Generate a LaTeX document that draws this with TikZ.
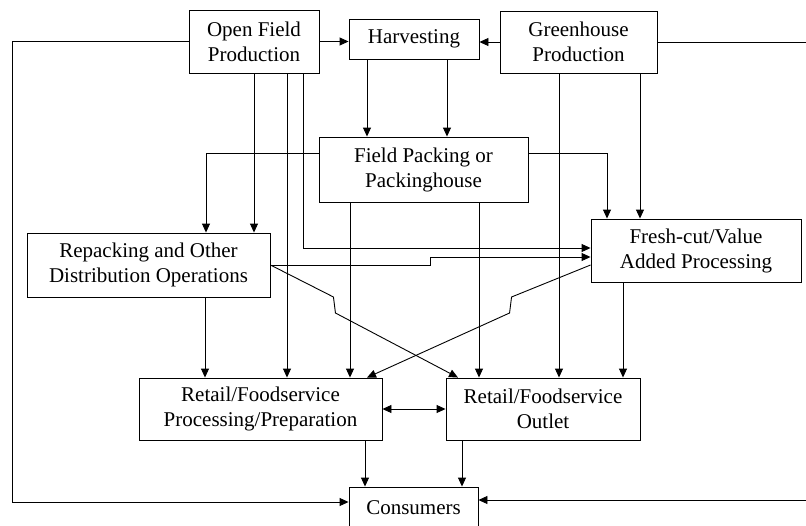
\documentclass[tikz,border=0pt]{standalone}
\usepackage{fontspec}
\setmainfont{Liberation Serif}
\usepackage{tikz}
\usetikzlibrary{positioning}
\usetikzlibrary{arrows.meta}

\tikzset{
	box/.style={draw, align=center, inner sep=0pt, line width=0.9pt, font=\fontsize{21}{25}\selectfont},
	flow/.style={line width=0.9pt, -{Triangle[length=9pt,width=8pt]}},
	bothflow/.style={line width=0.9pt, {Triangle[length=9pt,width=8pt]}-{Triangle[length=9pt,width=8pt]}}
}

\begin{document}
\begin{tikzpicture}[x=1pt, y=-1pt]
	\clip (0,0) rectangle (806,525);
	
	% Production and harvesting
	\node [box, minimum width=130, minimum height=63] at (254,41.5) (open) {Open Field\\Production};
	\node [box, minimum width=130, minimum height=40] at (414,39) (harv) {Harvesting};
	\node [box, minimum width=157, minimum height=62] at (578.5,42) (green) {Greenhouse\\Production};
	
	% Packing
	\node [box, minimum width=209, minimum height=65] at (423.5,169.5) (pack) {Field Packing or\\Packinghouse};
	
	% Repacking and fresh-cut
	\node [box, minimum width=243, minimum height=64] at (148.5,265) (repack) {Repacking and Other\\Distribution Operations};
	\node [box, minimum width=210, minimum height=63] at (696,250.5) (fresh) {Fresh-cut/Value\\Added Processing};
	
	% Retail and consumers
	\node [box, minimum width=243, minimum height=62] at (260.5,409) (proc) {Retail/Foodservice\\Processing/Preparation};
	\node [box, minimum width=194, minimum height=62] at (543,409) (outlet) {Retail/Foodservice\\Outlet};
	\node [box, minimum width=129, minimum height=42] at (413.5,508) (cons) {Consumers};
	
	% Connections
	\draw [flow] (open.east) -- (open.east -| harv.west);
	\draw [flow] (green.west) -- (green.west -| harv.east);
	\draw [flow] (open.west) -- (12,41.5) |- ([yshift=6]cons.west);
	\draw [flow] (green.east) -- (812,42) |- ([yshift=8]cons.east);
	
	\draw [flow] ([xshift=-47]harv.south) -- ([xshift=-47]harv.south |- pack.north);
	\draw [flow] ([xshift=33]harv.south) -- ([xshift=33]harv.south |- pack.north);
	
	\draw [flow] (open.south) -- (open.south |- repack.north);
	\draw [flow] ([xshift=33]open.south) -- ([xshift=33]open.south |- proc.north);
	\draw [flow] ([xshift=49]open.south) |- ([yshift=2.5]fresh.west);
	
	\draw [flow] ([yshift=16.5]pack.west) -| ([xshift=57.5]repack.north);
	\draw [flow] ([yshift=16]pack.east) -| ([xshift=-89]fresh.north);
	\draw [flow] ([xshift=-73.5]pack.south) -- ([xshift=-73.5]pack.south |- proc.north);
	\draw [flow] ([xshift=55.5]pack.south) -- ([xshift=55.5]pack.south |- outlet.north);
	
	\draw [flow] ([xshift=-19.5]green.south) -- ([xshift=-19.5]green.south |- outlet.north);
	\draw [flow] ([xshift=61.5]green.south) -- ([xshift=61.5]green.south |- fresh.north);
	
	\draw [flow] ([xshift=56.5]repack.south) -- ([xshift=56.5]repack.south |- proc.north);
	\draw [flow] (repack.east) -- ++(160,0) |- ([yshift=-6.5]fresh.west);
	\draw [flow] (repack.east) -- ++(63,32) -- ++(2,16) -- ([xshift=-85]outlet.north);
	
	\draw [flow] ([xshift=-73]fresh.south) -- ([xshift=-73]fresh.south |- outlet.north);
	\draw [flow] ([yshift=-14.5]fresh.west) -- ++(-79,32) -- ++(-2,16) -- ([xshift=106.5]proc.north);
	
	\draw [bothflow] (proc.east) -- (proc.east -| outlet.west);
	\draw [flow] ([xshift=104.5]proc.south) -- ([xshift=104.5]proc.south |- cons.north);
	\draw [flow] ([xshift=-81]outlet.south) -- ([xshift=-81]outlet.south |- cons.north);
\end{tikzpicture}
\end{document}
